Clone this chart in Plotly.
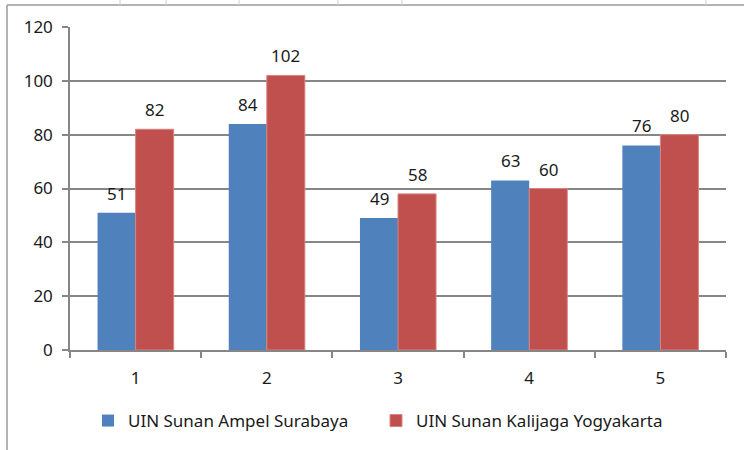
import plotly.graph_objects as go

categories = ["1", "2", "3", "4", "5"]
ampel = [51, 84, 49, 63, 76]
kalijaga = [82, 102, 58, 60, 80]
series_names = ["UIN Sunan Ampel Surabaya", "UIN Sunan Kalijaga Yogyakarta"]

W, H = 744, 450
L, R, T, B = 70, 726, 27, 351

def px(x):
    return (x - L) / (R - L)

def py(y):
    return (B - y) / (B - T)

FAM = "Noto Sans, Open Sans, sans-serif"
font = dict(family=FAM, size=17, color="#1a1a1a")
colors = ["#4F81BD", "#C0504D"]

fig = go.Figure()
fig.add_trace(go.Bar(x=categories, y=ampel, name=series_names[0], legend="legend",
                     marker=dict(color=colors[0], line=dict(width=0))))
fig.add_trace(go.Bar(x=categories, y=kalijaga, name=series_names[1], legend="legend2",
                     marker=dict(color=colors[1], line=dict(color="#D9837F", width=1))))

annotations = []
for vals, shift in [(ampel, -19), (kalijaga, 19)]:
    for i, v in enumerate(vals):
        annotations.append(dict(x=i, y=v, xref="x", yref="y", text=str(v),
                                showarrow=False, xshift=shift, yshift=6,
                                yanchor="bottom", font=font))

shapes = []
shapes.append(dict(type="line", xref="paper", yref="paper",
                   x0=px(7), x1=px(7), y0=py(5), y1=py(452),
                   line=dict(color="#9a9a9a", width=1.5)))
shapes.append(dict(type="line", xref="paper", yref="paper",
                   x0=px(7), x1=px(746), y0=py(5), y1=py(5),
                   line=dict(color="#9a9a9a", width=1.5)))
for cx in [120, 166, 239, 338, 402, 706]:
    shapes.append(dict(type="line", xref="paper", yref="paper",
                       x0=px(cx), x1=px(cx), y0=py(-2), y1=py(5),
                       line=dict(color="#d0d0d0", width=1)))

leg = dict(orientation="h", xanchor="left", y=py(421), yanchor="middle",
           font=font, itemwidth=30, bgcolor="rgba(0,0,0,0)")

fig.update_layout(
    width=W, height=H,
    margin=dict(l=L, r=W - R, t=T, b=H - B),
    paper_bgcolor="white", plot_bgcolor="white",
    barmode="group", bargap=0.42, bargroupgap=0,
    font=font,
    showlegend=True,
    legend=dict(leg, x=px(88)),
    legend2=dict(leg, x=px(376)),
    xaxis=dict(type="category", range=[-0.5, len(categories) - 0.5],
               showline=True, linecolor="#868686", linewidth=1.5,
               ticks="outside", tickson="boundaries", ticklen=6, tickcolor="#868686",
               tickwidth=1.5, showgrid=False, tickfont=font, ticklabelstandoff=12),
    yaxis=dict(range=[0, 120], dtick=20, showline=True, linecolor="#868686", linewidth=1.5,
               ticks="outside", ticklen=6, tickcolor="#868686", tickwidth=1.5,
               showgrid=True, gridcolor="#868686", gridwidth=1.5, zeroline=False,
               tickfont=font, ticklabelstandoff=6),
    shapes=shapes,
    annotations=annotations,
)

fig.write_html("out.html", config={"displayModeBar": False},
               post_script="document.body.style.margin='0';document.body.style.overflow='hidden';")
